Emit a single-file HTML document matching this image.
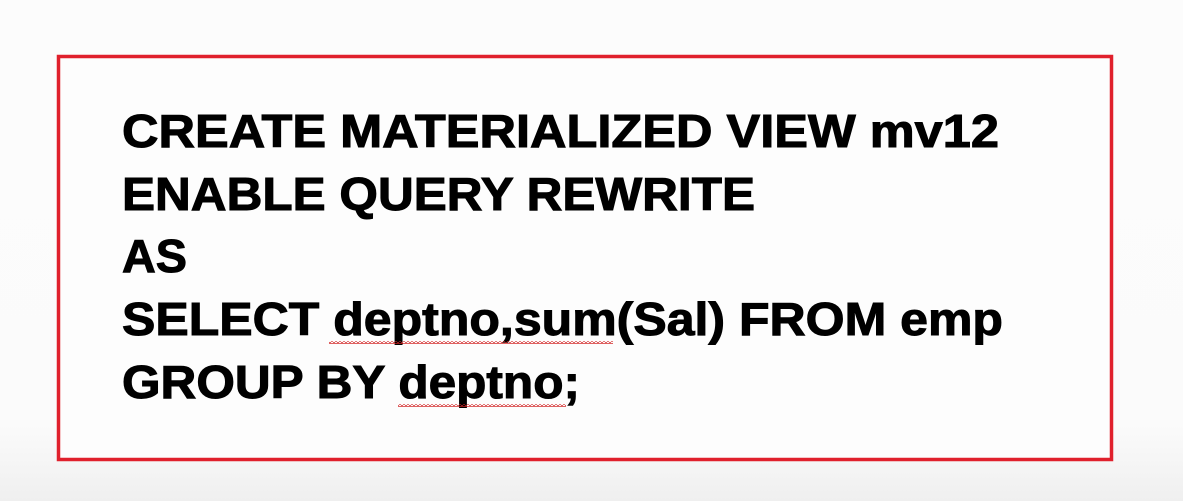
<!DOCTYPE html>
<html><head><meta charset="utf-8"><style>
html,body{margin:0;padding:0;}
body{width:1183px;height:501px;overflow:hidden;background:linear-gradient(#fcfcfc 0%,#fbfbfb 85%,#efefef 100%);}
</style></head><body>
<svg width="1183" height="501" xmlns="http://www.w3.org/2000/svg" style="position:absolute;left:0;top:0">
<defs>
<pattern id="sq" x="0" y="0" width="4" height="3" patternUnits="userSpaceOnUse">
<path d="M0 2.5 L2 0.5 L4 2.5" fill="none" stroke="#d02020" stroke-width="1"/>
</pattern>
</defs>
<rect x="58.5" y="56.5" width="1053" height="403" fill="#fdfdfd" stroke="#e0202c" stroke-width="3.5"/>
<g font-family="'Liberation Sans',Arial,sans-serif" font-weight="bold" font-size="46" fill="#000" stroke="#000" stroke-width="1">
<text x="122" y="147" textLength="877" lengthAdjust="spacingAndGlyphs">CREATE MATERIALIZED VIEW mv12</text>
<text x="122" y="210" textLength="633" lengthAdjust="spacingAndGlyphs">ENABLE QUERY REWRITE</text>
<text x="122" y="272" textLength="65" lengthAdjust="spacingAndGlyphs">AS</text>
<text x="122" y="335" textLength="881" lengthAdjust="spacingAndGlyphs">SELECT deptno,sum(Sal) FROM emp</text>
<text x="122" y="398" textLength="458" lengthAdjust="spacingAndGlyphs">GROUP BY deptno;</text>
</g>
<rect x="329" y="341" width="284" height="3" fill="url(#sq)"/>
<rect x="398" y="404" width="168" height="3" fill="url(#sq)"/>
</svg>
</body></html>
